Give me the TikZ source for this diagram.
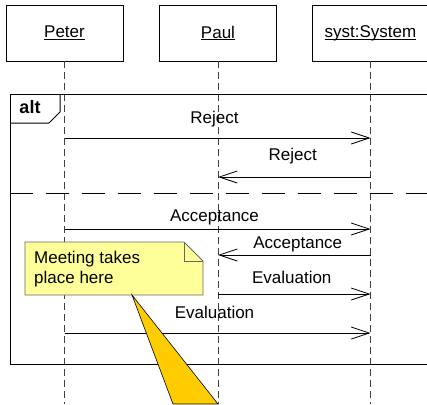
\documentclass[tikz,border=0pt]{standalone}
\usepackage{fontspec}
\setmainfont{Liberation Sans}
\usetikzlibrary{arrows.meta}
\definecolor{notefill}{HTML}{FFFF99}
\definecolor{calloutfill}{HTML}{FFCC00}
\newcommand{\objname}[1]{\underline{\raisebox{0pt}[\height][0pt]{#1}}}
\tikzset{
  actor/.style = {draw, line width = 0.8pt, minimum width = 117pt, minimum height = 56pt, inner sep = 0pt},
  lifeline/.style = {draw = black!75, line width = 0.8pt, dash pattern = on 7pt off 4pt},
  msg/.style = {line width = 0.8pt, -{Straight Barb[length = 18pt, width = 12pt, line width = 0.8pt]}},
  msglabel/.style = {midway, anchor = base, inner sep = 0pt}
}
\begin{document}
\begin{tikzpicture}[x = 1pt, y = -1pt, font = \fontsize{17}{20}\selectfont]
    \useasboundingbox (0,0) rectangle (427,404);
    \clip (0,0) rectangle (427,404);
    % heads and lifelines
    \node[actor] (peter) at (64.5,33) {\objname{Peter}};
    \node[actor] (paul) at (218,33) {\objname{Paul}};
    \node[actor] (syst) at (370.5,33) {\objname{syst:System}};
    \coordinate (bottom) at (0,404);
    \begin{scope}[style = lifeline]
        \draw (peter.south) -- (peter.south |- bottom);
        \draw (paul.south) -- (paul.south |- bottom);
        \draw (syst.south) -- (syst.south |- bottom);
    \end{scope}
    % alt fragment
    \draw[line width = 1pt] (10,364) -- (10,94) -- (440,94);
    \draw[line width = 1pt] (10,364) -- (440,364);
    \draw[line width = 1pt] (10,123) -- (49,123) -- (60,112) -- (60,94);
    \node[font = \fontsize{18}{20}\selectfont\bfseries] (alt) at (30,107) {alt};
    \draw[line width = 1pt, dash pattern = on 23pt off 13pt] (10,193) -- (440,193);
    % messages
    \coordinate (m1) at (0,138);
    \coordinate (m2) at (0,177);
    \coordinate (m3) at (0,229);
    \coordinate (m4) at (0,255);
    \coordinate (m5) at (0,294);
    \coordinate (m6) at (0,333);
    \draw[msg] (peter |- m1) -- (syst |- m1) node[msglabel, xshift = -3pt, yshift = 15pt] {Reject};
    \draw[msg] (syst |- m2) -- (paul |- m2) node[msglabel, xshift = -1.5pt, yshift = 17pt] {Reject};
    \draw[msg] (peter |- m3) -- (syst |- m3) node[msglabel, xshift = -3pt, yshift = 7.5pt] {Acceptance};
    \draw[msg] (syst |- m4) -- (paul |- m4) node[msglabel, xshift = 3.5pt, yshift = 7pt] {Acceptance};
    \draw[msg] (paul |- m5) -- (syst |- m5) node[msglabel, xshift = -2.5pt, yshift = 11pt] {Evaluation};
    \draw[msg] (peter |- m6) -- (syst |- m6) node[msglabel, xshift = -3pt, yshift = 15pt] {Evaluation};
    % note with callout
    \draw[fill = notefill, draw = black!60, line width = 0.8pt] (25,242) -- (184,242) -- (203,261) -- (203,295) -- (25,295) -- cycle;
    \draw[draw = black!60, line width = 0.8pt] (184,242) -- (184,261) -- (203,261);
    \node[anchor = north west, align = left, inner sep = 0pt] (note) at (34,251) {Meeting takes\\place here};
    \draw[fill = calloutfill, line width = 0.6pt] (132,295) -- (173,404) -- (218,404) -- cycle;
\end{tikzpicture}
\end{document}
